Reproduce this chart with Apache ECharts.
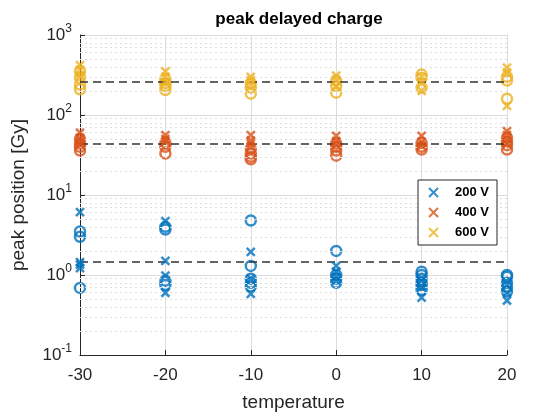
<!DOCTYPE html>
<html>
<head>
<meta charset="utf-8">
<script src="https://cdn.jsdelivr.net/npm/echarts@6/dist/echarts.min.js"></script>
<style>
  html, body { margin: 0; padding: 0; background: #fff; }
  #chart { width: 560px; height: 420px; }
</style>
</head>
<body>
<div id="chart"></div>
<script>
// temperatures on the x axis
var temperatures = [-30, -20, -10, 0, 10, 20]

// peak positions per temperature, 'x' markers and 'o' markers
var v200x = [[6.1, 1.45, 1.35, 1.22], [4.7, 1.5, 0.98, 0.6], [1.95, 0.9, 0.58], [1.3, 1.1, 0.95, 0.85], [0.85, 0.7, 0.52], [0.75, 0.6, 0.48]]
var v200o = [[3.5, 3.0, 0.69], [4.0, 3.7, 0.85, 0.75], [4.8, 1.3, 0.9, 0.8, 0.72], [2.0, 1.0, 0.9, 0.8], [1.1, 1.0, 0.9, 0.8, 0.75, 0.65], [1.0, 0.95, 0.8, 0.7, 0.62]]
var v400x = [[60, 52, 47, 43], [56, 50, 46], [56, 48, 44, 40], [55, 47, 42], [55, 46, 41], [63, 56, 50, 44]]
var v400o = [[50, 44, 40, 36], [45, 40, 33], [38, 33, 30, 28], [44, 40, 36, 31], [45, 40, 37], [52, 46, 42, 37]]
var v600x = [[420, 370, 310], [350, 300, 260], [300, 270, 240], [310, 270, 230], [300, 250, 200], [390, 340, 130]]
var v600o = [[350, 290, 240, 210], [280, 250, 230, 205], [250, 220, 185], [270, 230, 190], [320, 290, 220], [300, 270, 160]]

// dashed reference levels
var refLevels = [263, 44.2, 1.45]

var legendNames = ['200 V', '400 V', '600 V']
var colors = ['#0072BD', '#D95319', '#EDB120']

var crossPath = 'path://M0,0L10,10M10,0L0,10'

function toPairs (arr) {
  var out = []
  arr.forEach(function (vals, i) {
    vals.forEach(function (v) { out.push([temperatures[i], v]) })
  })
  return out
}

// minor grid values 2..9 per decade
var minorVals = []
for (var e = -1; e < 3; e++) {
  for (var m = 2; m < 10; m++) minorVals.push(m * Math.pow(10, e))
}

function crossSeries (name, data, color) {
  return {
    name: name,
    type: 'scatter',
    symbol: crossPath,
    symbolSize: 8,
    itemStyle: { color: 'transparent', borderColor: color, borderWidth: 2.5 },
    data: toPairs(data),
    z: 5
  }
}
function circleSeries (name, data, color) {
  return {
    name: name + ' o',
    type: 'scatter',
    symbol: 'circle',
    symbolSize: 10,
    itemStyle: { color: 'transparent', borderColor: color, borderWidth: 2.5 },
    data: toPairs(data),
    z: 4
  }
}

var chart = echarts.init(document.getElementById('chart'))
var option = {
  animation: false,
  backgroundColor: '#fff',
  title: {
    text: 'peak delayed charge',
    left: 294,
    textAlign: 'center',
    top: 6,
    textStyle: { fontFamily: 'Liberation Sans', fontSize: 17, fontWeight: 'bold', color: '#000' }
  },
  legend: {
    data: legendNames.map(function (n) { return { name: n, icon: crossPath } }),
    orient: 'vertical',
    right: 63,
    top: 180,
    z: 20,
    itemWidth: 9,
    itemHeight: 9,
    itemGap: 7,
    padding: [6, 8, 6, 10],
    backgroundColor: '#fff',
    borderColor: '#262626',
    borderWidth: 1,
    textStyle: { fontFamily: 'Liberation Sans', fontSize: 13, fontWeight: 'bold', color: '#000', padding: [0, 0, 0, 12] }
  },
  grid: { left: 80, right: 53, top: 35, bottom: 65 },
  xAxis: {
    type: 'value',
    min: -30,
    max: 20,
    interval: 10,
    name: 'temperature',
    nameLocation: 'middle',
    nameGap: 38,
    nameTextStyle: { fontFamily: 'Liberation Sans', fontSize: 19, color: '#262626' },
    axisLine: { onZero: false, lineStyle: { color: '#262626', width: 1 } },
    axisTick: { inside: true, length: 5, lineStyle: { color: '#262626' } },
    axisLabel: { fontFamily: 'Liberation Sans', fontSize: 17, color: '#262626', margin: 12 },
    splitLine: { show: true, lineStyle: { color: '#dcdcdc', width: 1 } }
  },
  yAxis: {
    type: 'log',
    min: 0.1,
    max: 1000,
    logBase: 10,
    name: 'peak position [Gy]',
    nameLocation: 'middle',
    nameGap: 52,
    nameTextStyle: { fontFamily: 'Liberation Sans', fontSize: 19, color: '#262626' },
    axisLine: { show: true, onZero: false, lineStyle: { color: '#262626', width: 1 } },
    axisTick: { inside: true, length: 5, lineStyle: { color: '#262626' } },
    axisLabel: {
      margin: 8,
      formatter: function (v) {
        var p = Math.round(Math.log10(v))
        return '{b|10}{s|' + p + '}'
      },
      rich: {
        b: { fontFamily: 'Liberation Sans', fontSize: 17, color: '#262626' },
        s: { fontFamily: 'Liberation Sans', fontSize: 12, color: '#262626', padding: [0, 0, 12, 0] }
      }
    },
    splitLine: { show: true, lineStyle: { color: '#dcdcdc', width: 1 } }
  },
  series: [
    {
      name: 'grid',
      type: 'scatter',
      data: [],
      silent: true,
      z: 1,
      markLine: {
        silent: true,
        symbol: 'none',
        label: { show: false },
        animation: false,
        lineStyle: { color: '#dedede', type: [2, 3], width: 1 },
        data: minorVals.map(function (v) { return { yAxis: v } })
      }
    },
    {
      name: 'ref',
      type: 'scatter',
      data: [],
      silent: true,
      z: 6,
      markLine: {
        silent: true,
        symbol: 'none',
        label: { show: false },
        animation: false,
        lineStyle: { color: '#333', type: [8, 5], width: 1.5 },
        data: refLevels.map(function (v) { return { yAxis: v } })
      }
    },
    circleSeries('200 V', v200o, colors[0]),
    circleSeries('400 V', v400o, colors[1]),
    circleSeries('600 V', v600o, colors[2]),
    crossSeries('200 V', v200x, colors[0]),
    crossSeries('400 V', v400x, colors[1]),
    crossSeries('600 V', v600x, colors[2])
  ]
}
chart.setOption(option)
</script>
</body>
</html>
